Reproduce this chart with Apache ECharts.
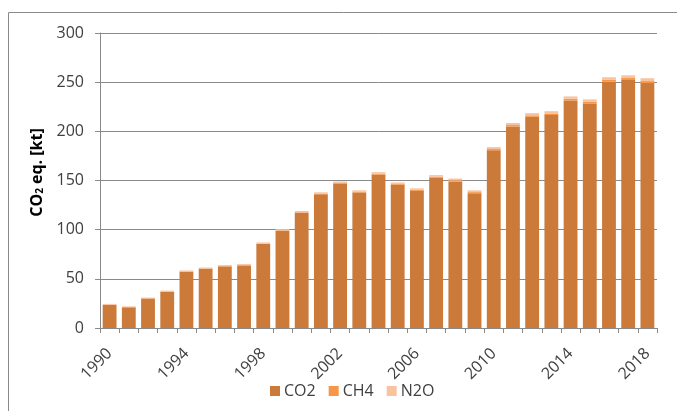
<!DOCTYPE html>
<html>
<head>
<meta charset="utf-8">
<script src="https://cdn.jsdelivr.net/npm/echarts@6/dist/echarts.min.js"></script>
<style>
  html, body { margin: 0; padding: 0; background: #fff; }
  #chart { width: 677px; height: 411px; }
</style>
</head>
<body>
<div id="chart"></div>
<script>
// Emissions by gas, 1990–2018, CO2 equivalent in kt
const years = ['1990','1991','1992','1993','1994','1995','1996','1997','1998','1999',
  '2000','2001','2002','2003','2004','2005','2006','2007','2008','2009',
  '2010','2011','2012','2013','2014','2015','2016','2017','2018'];

const co2 = [23.5, 21.0, 29.9, 36.8, 57.2, 60.2, 62.6, 63.5, 85.4, 98.8,
  117.3, 136.1, 146.9, 137.9, 156.2, 145.7, 139.5, 152.8, 149.1, 137.1,
  180.7, 205.0, 214.8, 216.6, 231.4, 228.2, 250.4, 252.2, 249.1];

const ch4 = [0.3, 0.3, 0.3, 0.4, 0.4, 0.4, 0.4, 0.5, 0.5, 0.5,
  0.5, 0.6, 0.7, 0.7, 0.8, 0.8, 0.9, 1.0, 1.1, 1.1,
  1.3, 1.4, 1.5, 1.6, 1.7, 1.8, 1.9, 2.0, 2.0];

const n2o = [0.7, 0.7, 0.8, 0.8, 0.9, 0.9, 1.0, 1.0, 1.1, 1.2,
  1.2, 1.3, 1.4, 1.4, 1.5, 1.5, 1.6, 1.7, 1.8, 1.8,
  2.0, 2.1, 2.2, 2.3, 2.4, 2.5, 2.7, 2.8, 2.9];

const yTicks = { min: 0, max: 300, step: 50 };

const FONT = '"Open Sans", "Noto Sans", sans-serif';
const chart = echarts.init(document.getElementById('chart'), null, { renderer: 'canvas' });

function barSeries(name, data, color) {
  return {
    name: name,
    type: 'bar',
    stack: 'total',
    data: data,
    barCategoryGap: '28%',
    itemStyle: { color: color },
    emphasis: { disabled: true }
  };
}

chart.setOption({
  animation: false,
  textStyle: { fontFamily: FONT },
  graphic: [{
    type: 'rect',
    shape: { x: 8.5, y: 12.5, width: 700, height: 420 },
    style: { fill: 'none', stroke: '#8a8a8a', lineWidth: 1 },
    silent: true
  }],
  grid: { left: 100, right: 20, top: 33, bottom: 83 },
  legend: {
    left: 265,
    top: 378,
    itemWidth: 10,
    itemHeight: 10,
    itemGap: 13,
    icon: 'rect',
    textStyle: { fontFamily: FONT, fontSize: 16, color: '#404040', padding: [0, 0, 0, -1] },
    data: ['CO2', 'CH4', 'N2O']
  },
  xAxis: {
    type: 'category',
    data: years,
    boundaryGap: true,
    axisLine: { lineStyle: { color: '#8a8a8a', width: 1 } },
    axisTick: { show: true, alignWithLabel: false, interval: 0, length: 5, lineStyle: { color: '#8a8a8a' } },
    axisLabel: {
      interval: 3,
      rotate: 45,
      margin: 23,
      fontFamily: FONT,
      fontSize: 16,
      color: '#404040'
    }
  },
  yAxis: {
    type: 'value',
    min: yTicks.min,
    max: yTicks.max,
    interval: yTicks.step,
    name: 'CO{sub|2} eq. [kt]',
    nameLocation: 'middle',
    nameGap: 50,
    nameRotate: 90,
    nameTextStyle: {
      fontFamily: FONT,
      fontSize: 16,
      fontWeight: 'bold',
      color: '#000',
      padding: [0, 0, 0, 16],
      rich: {
        sub: { fontSize: 10, fontWeight: 'bold', verticalAlign: 'bottom', padding: [7, 0, 0, 0], fontFamily: FONT }
      }
    },
    axisLine: { show: true, lineStyle: { color: '#8a8a8a', width: 1 } },
    axisTick: { show: true, length: 5, lineStyle: { color: '#8a8a8a' } },
    axisLabel: { margin: 16, fontFamily: FONT, fontSize: 16, color: '#404040' },
    splitLine: { show: true, lineStyle: { color: '#8a8a8a', width: 1 } }
  },
  series: [
    barSeries('CO2', co2, '#CB7A3A'),
    barSeries('CH4', ch4, '#F79646'),
    barSeries('N2O', n2o, '#FAC3A0')
  ]
});
</script>
</body>
</html>
